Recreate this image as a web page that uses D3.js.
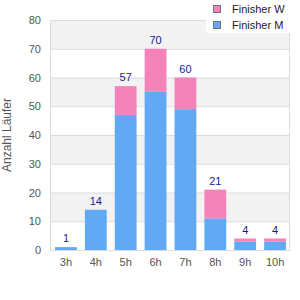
<!DOCTYPE html>
<html>
<head>
<meta charset="utf-8">
<script src="https://cdn.jsdelivr.net/npm/d3@7"></script>
<style>
  body { margin: 0; background: #fff; }
  text { font-family: "Liberation Sans", Arial, sans-serif; }
</style>
</head>
<body>
<svg id="chart" width="300" height="300"></svg>
<script>
// Zielzeit-Kategorien und Finisher pro Kategorie
var categories = ["3h", "4h", "5h", "6h", "7h", "8h", "9h", "10h"];
var finisherM = [1, 14, 47, 55, 49, 11, 3, 3];
var finisherW = [0, 0, 10, 15, 11, 10, 1, 1];
var yTicks = [0, 10, 20, 30, 40, 50, 60, 70, 80];
var seriesNames = ["Finisher W", "Finisher M"];
var seriesColors = ["#f383b9", "#61a9f3"];

var svg = d3.select("#chart");
var margin = {top: 20, right: 10, bottom: 50, left: 51};
var width = 300 - margin.left - margin.right,
    height = 300 - margin.top - margin.bottom;

var x = d3.scaleBand().domain(categories).range([0, width]).paddingInner(0.27).paddingOuter(0.135);
var y = d3.scaleLinear().domain([0, 80]).range([height, 0]);

var g = svg.append("g")
    .attr("transform", "translate(" + margin.left + "," + margin.top + ")");

// alternierende Hintergrundbänder
g.selectAll(".band").data(yTicks.slice(0, -1))
  .enter().append("rect")
    .attr("x", 0)
    .attr("y", function(d){ return y(d + 10); })
    .attr("width", width)
    .attr("height", function(d){ return y(d) - y(d + 10); })
    .attr("fill", function(d, i){ return i % 2 === 1 ? "#f2f2f2" : "#fff"; });

// Gitterlinien
g.selectAll(".grid").data(yTicks)
  .enter().append("line")
    .attr("x1", 0).attr("x2", width)
    .attr("y1", function(d){ return y(d) + 0.5; })
    .attr("y2", function(d){ return y(d) + 0.5; })
    .attr("stroke", "#dcdcdc");

// Rahmen links / rechts
g.append("line").attr("x1", -0.5).attr("x2", -0.5).attr("y1", 0).attr("y2", height + 1)
    .attr("stroke", "#dcdcdc");
g.append("line").attr("x1", width - 0.5).attr("x2", width - 0.5).attr("y1", 0).attr("y2", height + 1)
    .attr("stroke", "#dcdcdc");

var stackData = categories.map(function(c, i){ return {cat: c, m: finisherM[i], w: finisherW[i]}; });
var stack = d3.stack().keys(["m", "w"])(stackData);
var colorOf = {m: seriesColors[1], w: seriesColors[0]};

g.selectAll(".serie").data(stack)
  .enter().append("g")
    .attr("fill", function(d){ return colorOf[d.key]; })
  .selectAll("rect").data(function(d){ return d; })
  .enter().append("rect")
    .attr("x", function(d){ return x(d.data.cat); })
    .attr("y", function(d){ return y(d[1]); })
    .attr("width", x.bandwidth())
    .attr("height", function(d){ return y(d[0]) - y(d[1]); });

// Summenbeschriftung
g.selectAll(".total").data(stackData)
  .enter().append("text")
    .attr("x", function(d){ return x(d.cat) + x.bandwidth() / 2; })
    .attr("y", function(d){ return y(d.m + d.w) - 5; })
    .attr("text-anchor", "middle")
    .attr("font-size", "11px")
    .attr("fill", "#1a1a8c")
    .text(function(d){ return d.m + d.w; });

// Achsen
var yAxis = g.append("g")
    .call(d3.axisLeft(y).tickValues(yTicks).tickSize(0).tickPadding(10));
yAxis.select(".domain").remove();
yAxis.selectAll("text").attr("font-size", "11px").attr("fill", "#555")
    .style("font-family", "Liberation Sans, Arial, sans-serif");

var xAxis = g.append("g")
    .attr("transform", "translate(0," + height + ")")
    .call(d3.axisBottom(x).tickSize(0).tickPadding(8));
xAxis.select(".domain").remove();
xAxis.selectAll("text").attr("font-size", "11px").attr("fill", "#555")
    .style("font-family", "Liberation Sans, Arial, sans-serif");

svg.append("text")
    .attr("transform", "translate(11," + (margin.top + 115) + ") rotate(-90)")
    .attr("text-anchor", "middle")
    .attr("font-size", "12px")
    .attr("fill", "#555")
    .text("Anzahl Läufer");

// Legende
var legend = svg.append("g");
legend.append("rect").attr("x", 206).attr("y", 0).attr("width", 94).attr("height", 33).attr("fill", "#fff");
var li = legend.selectAll(".item").data(seriesNames)
  .enter().append("g")
    .attr("transform", function(d, i){ return "translate(213," + (5 + i * 16) + ")"; });
li.append("rect")
    .attr("x", 0.5).attr("y", 0.5).attr("width", 7).attr("height", 7)
    .attr("fill", function(d, i){ return seriesColors[i]; })
    .attr("stroke", "#777");
li.append("text")
    .attr("x", 19).attr("y", 8)
    .attr("font-size", "11px")
    .attr("fill", "#222")
    .text(function(d){ return d; });
</script>
</body>
</html>
